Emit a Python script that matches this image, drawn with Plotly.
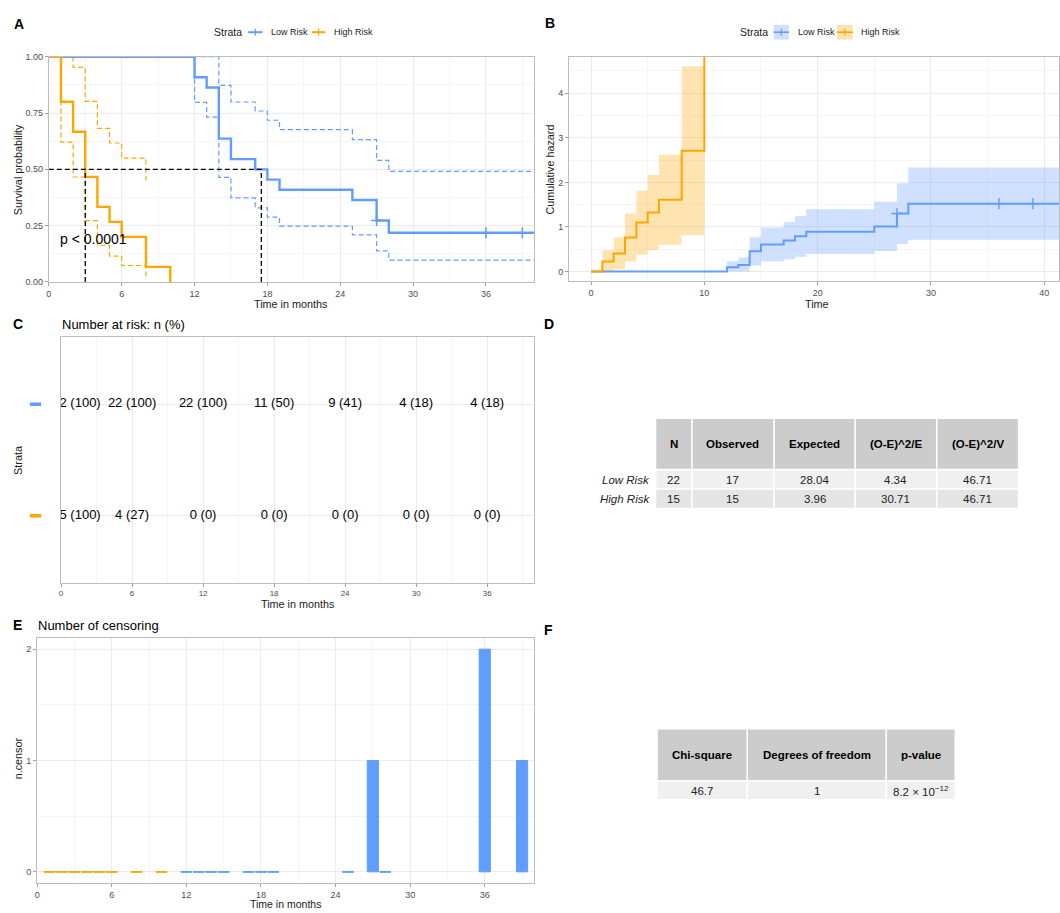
import numpy as np
import plotly.graph_objects as go

W, H = 1060, 913
FONT = "Liberation Sans, Arial, Helvetica, sans-serif"

BLUE = "#619CFF"
ORANGE = "#FFA500"
BLUE_RIBBON = "rgba(97,156,255,0.3)"
ORANGE_RIBBON = "rgba(255,165,0,0.3)"
GRID = "#EBEBEB"
GRID_MINOR = "#F5F5F5"
BORDER = "#BDBDBD"
TICK_TXT = "#4D4D4D"
TITLE_TXT = "#1A1A1A"

# ---------------------------------------------------------------- data
strata = ["Low Risk", "High Risk"]

# Kaplan-Meier estimate, Low Risk stratum (time in months)
low_time = [0, 12, 13, 14, 15, 17, 18, 19, 25, 27, 28, 36, 39, 42]
low_surv = [1.0, 0.9091, 0.8636, 0.6364, 0.5455, 0.5, 0.4545, 0.4091,
            0.3636, 0.2727, 0.2182, 0.2182, 0.2182, 0.2182]
low_upper = [1.0, 1.0, 1.0, 0.873, 0.799, 0.759, 0.718, 0.676,
             0.632, 0.540, 0.491, 0.491, 0.491, 0.491]
low_lower = [1.0, 0.797, 0.732, 0.464, 0.373, 0.329, 0.288, 0.248,
             0.209, 0.138, 0.097, 0.097, 0.097, 0.097]
# censored subjects at each recorded time (time 0 excluded)
low_ncensor = [0, 0, 0, 0, 0, 0, 0, 0, 1, 0, 2, 1, 1]

# Kaplan-Meier estimate, High Risk stratum
high_time = [0, 1, 2, 3, 4, 5, 6, 8, 10]
high_surv = [1.0, 0.8, 0.6667, 0.4667, 0.3333, 0.2667, 0.2, 0.0667, 0.0]
high_upper = [1.0, 1.0, 0.953, 0.802, 0.682, 0.617, 0.550, 0.443, None]
high_lower = [1.0, 0.621, 0.466, 0.272, 0.163, 0.115, 0.073, 0.010, None]
high_ncensor = [0, 0, 0, 0, 0, 0, 0, 0]

median_survival = [17.5, 3.0]   # Low Risk, High Risk
pval_text = "p < 0.0001"

# Number at risk table
risk_times = [0, 6, 12, 18, 24, 30, 36]
risk_low_n = [22, 22, 22, 11, 9, 4, 4]
risk_low_pct = [100, 100, 100, 50, 41, 18, 18]
risk_high_n = [15, 4, 0, 0, 0, 0, 0]
risk_high_pct = [100, 27, 0, 0, 0, 0, 0]

# Log-rank test summary
lr_columns = ["N", "Observed", "Expected", "(O-E)^2/E", "(O-E)^2/V"]
lr_N = [22, 15]
lr_observed = [17, 15]
lr_expected = [28.04, 3.96]
lr_oe2_e = [4.34, 30.71]
lr_oe2_v = [46.71, 46.71]

test_columns = ["Chi-square", "Degrees of freedom", "p-value"]
chi_square = 46.7
degrees_freedom = 1
p_value = 8.2e-12

# ---------------------------------------------------------------- helpers
def px(x):
    return x / W


def py(y):
    return 1 - y / H


shapes = []
annotations = []


def text(s, x, y, size, color=TITLE_TXT, xanchor="center", yanchor="middle",
         angle=0, bold=False, italic=False):
    if bold:
        s = "<b>" + s + "</b>"
    if italic:
        s = "<i>" + s + "</i>"
    annotations.append(dict(text=s, x=px(x), y=py(y), xref="paper", yref="paper",
                            xanchor=xanchor, yanchor=yanchor, textangle=angle,
                            showarrow=False,
                            font=dict(family=FONT, size=size, color=color)))


def rect(x0, y0, x1, y1, fill):
    shapes.append(dict(type="rect", xref="paper", yref="paper",
                       x0=px(x0), x1=px(x1), y0=py(y1), y1=py(y0),
                       fillcolor=fill, line=dict(width=0), layer="below"))


def seg(x0, y0, x1, y1, color, width):
    shapes.append(dict(type="line", xref="paper", yref="paper",
                       x0=px(x0), x1=px(x1), y0=py(y0), y1=py(y1),
                       line=dict(color=color, width=width)))


def axis(domain, rng, dtick, minor_dtick=None, tick_size=9, **kw):
    d = dict(domain=domain, range=rng, tick0=0, dtick=dtick, tickmode="linear",
             showgrid=True, gridcolor=GRID, gridwidth=1, zeroline=False,
             showline=True, linecolor=BORDER, linewidth=1, mirror=True,
             ticks="outside", ticklen=3, tickwidth=1, tickcolor="#A0A0A0",
             tickfont=dict(family=FONT, size=tick_size, color=TICK_TXT),
             fixedrange=True)
    if minor_dtick is not None:
        d["minor"] = dict(tick0=0, dtick=minor_dtick, showgrid=True,
                          gridcolor=GRID_MINOR, gridwidth=0.7, ticks="")
    d.update(kw)
    return d


fig = go.Figure()
DASH = "5px,3px"

# ---------------------------------------------------------------- A: survival curves
stratum_data = [
    (low_time, low_surv, low_upper, low_lower, low_ncensor, BLUE, BLUE_RIBBON),
    (high_time, high_surv, high_upper, high_lower, high_ncensor, ORANGE, ORANGE_RIBBON),
]

for t, s, up, lo, nc, col, _ in stratum_data:
    for band in (up, lo):
        fig.add_trace(go.Scatter(x=t, y=band, mode="lines", xaxis="x", yaxis="y",
                                 line=dict(color=col, width=1.2, dash=DASH, shape="hv"),
                                 connectgaps=False, hoverinfo="skip"))
for t, s, up, lo, nc, col, _ in stratum_data:
    fig.add_trace(go.Scatter(x=t, y=s, mode="lines", xaxis="x", yaxis="y",
                             line=dict(color=col, width=2.4, shape="hv"), hoverinfo="skip"))
    cx = [tt for tt, c in zip(t[1:], nc) if c > 0]
    cy = [ss for ss, c in zip(s[1:], nc) if c > 0]
    if cx:
        fig.add_trace(go.Scatter(x=cx, y=cy, mode="markers", xaxis="x", yaxis="y",
                                 marker=dict(symbol="cross-thin", size=8, color=col,
                                             line=dict(color=col, width=1.6)),
                                 hoverinfo="skip"))

# median survival reference lines
mx, my = [0, max(median_survival), None], [0.5, 0.5, None]
for m in median_survival:
    mx += [m, m, None]
    my += [0, 0.5, None]
fig.add_trace(go.Scatter(x=mx, y=my, mode="lines", xaxis="x", yaxis="y",
                         line=dict(color="black", width=1.3, dash=DASH), hoverinfo="skip"))

annotations.append(dict(text=pval_text, x=0.75, y=0.19, xref="x", yref="y",
                        xanchor="left", yanchor="middle", showarrow=False,
                        font=dict(family=FONT, size=14, color="black")))

# ---------------------------------------------------------------- B: cumulative hazard
TOP_CAP = 1e3   # stands in for an infinite cumulative hazard


def cumhaz(v):
    out = []
    for a in v:
        if a is None:
            out.append(None)
        elif a <= 0:
            out.append(TOP_CAP)
        else:
            out.append(float(-np.log(a)))
    return out


for t, s, up, lo, nc, col, rib in stratum_data:
    valid = [i for i, v in enumerate(lo) if v is not None]
    rx = [t[i] for i in valid]
    r_lo = [cumhaz([up[i]])[0] for i in valid]
    r_hi = [cumhaz([lo[i]])[0] for i in valid]
    if valid[-1] + 1 < len(t):
        rx.append(t[valid[-1] + 1])
        r_lo.append(r_lo[-1])
        r_hi.append(r_hi[-1])
    fig.add_trace(go.Scatter(x=rx, y=r_lo, mode="lines", xaxis="x2", yaxis="y2",
                             line=dict(width=0, shape="hv", color=col), hoverinfo="skip"))
    fig.add_trace(go.Scatter(x=rx, y=r_hi, mode="lines", xaxis="x2", yaxis="y2",
                             fill="tonexty", fillcolor=rib,
                             line=dict(width=0, shape="hv", color=col), hoverinfo="skip"))

for t, s, up, lo, nc, col, _ in stratum_data:
    ch = cumhaz(s)
    fig.add_trace(go.Scatter(x=t, y=ch, mode="lines", xaxis="x2", yaxis="y2",
                             line=dict(color=col, width=2.0, shape="hv"), hoverinfo="skip"))
    cx = [tt for tt, c in zip(t[1:], nc) if c > 0]
    cy = [hh for hh, c in zip(ch[1:], nc) if c > 0]
    if cx:
        fig.add_trace(go.Scatter(x=cx, y=cy, mode="markers", xaxis="x2", yaxis="y2",
                                 marker=dict(symbol="cross-thin", size=8, color=col,
                                             line=dict(color=col, width=1.4)),
                                 hoverinfo="skip"))

# ---------------------------------------------------------------- C: number at risk
FIRST_LABEL_NUDGE = 1.3
risk_rows = [(2, risk_low_n, risk_low_pct, BLUE), (1, risk_high_n, risk_high_pct, ORANGE)]
for yrow, n, pct, col in risk_rows:
    labels = [f"{a} ({b})" for a, b in zip(n, pct)]
    xs = [tt + (FIRST_LABEL_NUDGE if tt == 0 else 0) for tt in risk_times]
    fig.add_trace(go.Scatter(x=xs, y=[yrow] * len(xs), mode="text", text=labels,
                             textposition="middle center", xaxis="x3", yaxis="y3",
                             cliponaxis=True, hoverinfo="skip",
                             textfont=dict(family=FONT, size=13, color="black")))
    shapes.append(dict(type="line", xref="paper", yref="y3", x0=px(27), x1=px(38.3),
                       y0=yrow, y1=yrow, line=dict(color=col, width=3.5)))

# ---------------------------------------------------------------- E: number of censoring
BAR_W = 0.9
for t, s, up, lo, nc, col, _ in stratum_data:
    fig.add_trace(go.Bar(x=t[1:], y=nc, width=BAR_W, xaxis="x4", yaxis="y4",
                         marker=dict(color=col, line=dict(color=col, width=1)),
                         hoverinfo="skip"))
    zx, zy = [], []
    for tt, c in zip(t[1:], nc):
        if c == 0:
            zx += [tt - BAR_W / 2, tt + BAR_W / 2, None]
            zy += [0, 0, None]
    fig.add_trace(go.Scatter(x=zx, y=zy, mode="lines", xaxis="x4", yaxis="y4",
                             line=dict(color=col, width=1.8), hoverinfo="skip"))

# ---------------------------------------------------------------- tables (D, F)
HEAD_FILL = "#CCCCCC"
ROW_FILLS = ["#F0F0F0", "#E4E4E4"]
GAP = 1.6


def draw_table(x_edges, y_edges, header, rows, size=11.5):
    for j, h in enumerate(header):
        x0, x1 = x_edges[j] + GAP / 2, x_edges[j + 1] - GAP / 2
        rect(x0, y_edges[0], x1, y_edges[1] - GAP / 2, HEAD_FILL)
        text(h, (x0 + x1) / 2, (y_edges[0] + y_edges[1]) / 2, size, color="black", bold=True)
        for i, row in enumerate(rows):
            y0, y1 = y_edges[i + 1] + GAP / 2, y_edges[i + 2] - GAP / 2
            rect(x0, y0, x1, y1, ROW_FILLS[i % 2])
            text(row[j], (x0 + x1) / 2, (y0 + y1) / 2 + 0.5, size, color="#222222")


lr_rows = [[str(lr_N[i]), str(lr_observed[i]), f"{lr_expected[i]:.2f}",
            f"{lr_oe2_e[i]:.2f}", f"{lr_oe2_v[i]:.2f}"] for i in range(len(strata))]
d_x = [655, 691.5, 774, 855.3, 937.3, 1019.5]
d_y = [418.5, 469.8, 489.3, 509]
draw_table(d_x, d_y, lr_columns, lr_rows)
for i, name in enumerate(strata):
    text(name, 651, (d_y[i + 1] + d_y[i + 2]) / 2 + 0.5, 11.5, color="#222222",
         xanchor="right", italic=True)

exp10 = int(np.floor(np.log10(p_value)))
mant = p_value / 10 ** exp10
p_txt = f"{mant:.1f} × 10<sup>−{abs(exp10)}</sup>"
f_rows = [[f"{chi_square:.1f}", str(degrees_freedom), p_txt]]
draw_table([656.5, 747, 886.5, 956], [732.5, 784.3, 803.5], test_columns, f_rows)

# ---------------------------------------------------------------- legends
def legend(x_title, keys, boxed):
    text("Strata", x_title, 27.5, 10.5, xanchor="left")
    for (x0, x1, label_x, col, rib), name in zip(keys, strata):
        if boxed:
            rect(x0, 20, x1, 35, rib)
        seg(x0, 27.5, x1, 27.5, col, 1.6 if boxed else 2)
        xc = (x0 + x1) / 2
        seg(xc, 24, xc, 31, col, 1.2)
        text(name, label_x, 27.5, 9, xanchor="left")


legend(210, [(246, 260.5, 266.6, BLUE, BLUE_RIBBON),
             (309.9, 323.6, 330.5, ORANGE, ORANGE_RIBBON)], boxed=False)
legend(738, [(773.6, 788.9, 795.6, BLUE, BLUE_RIBBON),
             (837, 853, 859, ORANGE, ORANGE_RIBBON)], boxed=True)

# ---------------------------------------------------------------- titles & labels
for letter, x, y in [("A", 16, 19), ("B", 549, 18), ("C", 15, 323),
                     ("D", 548, 323), ("E", 15, 627), ("F", 548, 632)]:
    text(letter, x, y, 14, color="black", bold=True)

text("Number at risk: n (%)", 57.5, 323, 13, color="black", xanchor="left")
text("Number of censoring", 33, 627, 13, color="black", xanchor="left")

AX_T = 10.8
text("Time in months", 289.5, 302, AX_T)
text("Survival probability", 15, 166, AX_T, angle=-90)
text("Time", 817, 302, AX_T)
text("Cumulative hazard", 549.5, 166, AX_T, angle=-90)
text("Time in months", 296, 606, AX_T)
text("Strata", 15, 460, AX_T, angle=-90)
text("Time in months", 284, 908.8, 10.5)
text("n.censor", 15, 761.7, AX_T, angle=-90)

# ---------------------------------------------------------------- layout
fig.update_layout(
    width=W, height=H, margin=dict(l=0, r=0, t=0, b=0),
    paper_bgcolor="white", plot_bgcolor="white", showlegend=False,
    barmode="overlay", font=dict(family=FONT),
    xaxis=axis([px(46), px(533.5)], [0, 40], 6, 3, anchor="y"),
    yaxis=axis([py(280), py(52.3)], [0, 1], 0.25, 0.125, anchor="x", tickformat=".2f"),
    xaxis2=axis([px(568.3), 1.0], [-1.93, 41.3], 10, 5, anchor="y2"),
    yaxis2=axis([py(279.3), py(52.3)], [-0.22, 4.82], 1, 0.5, anchor="x2"),
    xaxis3=axis([px(58.3), px(533.5)], [0, 40], 6, 3, tick_size=8, anchor="y3"),
    yaxis3=axis([py(584), py(336)], [0.4, 2.6], 1, None, anchor="x3",
                tickmode="array", tickvals=[1, 2], showticklabels=False, ticks=""),
    xaxis4=axis([px(34.3), px(533.5)], [0, 40], 6, 3, anchor="y4"),
    yaxis4=axis([py(887.7), py(640)], [-0.1, 2.1], 1, 0.5, anchor="x4"),
    shapes=shapes, annotations=annotations,
)

fig.write_html("out.html")
